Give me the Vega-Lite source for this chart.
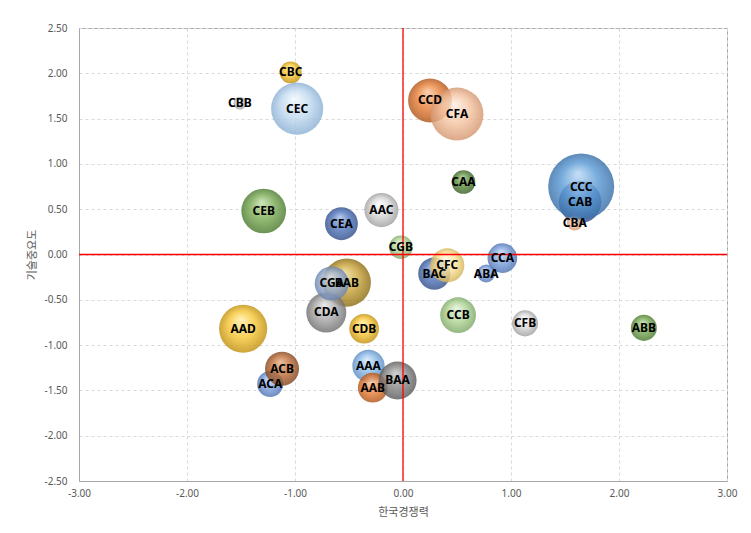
{
  "$schema": "https://vega.github.io/schema/vega-lite/v6.json",
  "width": 648,
  "height": 453,
  "autosize": {"type": "none"},
  "padding": {"left": 79, "top": 28, "right": 24, "bottom": 52},
  "background": "white",
  "config": {
    "locale": {"number": {"decimal": ".", "thousands": ",", "grouping": [3], "currency": ["$", ""], "minus": "-"}},
    "view": {"stroke": "#a6a6a6", "strokeWidth": 1},
    "axis": {
      "domainColor": "#a6a6a6",
      "ticks": false,
      "gridColor": "#d9d9d9",
      "gridDash": [3, 3],
      "labelFont": "Noto Sans",
      "labelFontSize": 10,
      "labelColor": "#595959",
      "titleFont": "Noto Sans CJK KR",
      "titleFontSize": 11,
      "titleFontWeight": "normal",
      "titleColor": "#595959"
    }
  },
  "data": {
    "values": [
      {"name": "AAA", "x": -0.32, "y": -1.23, "value": 26, "c": "skyblue"},
      {"name": "AAB", "x": -0.28, "y": -1.47, "value": 22, "c": "orange"},
      {"name": "AAC", "x": -0.20, "y": 0.49, "value": 29, "c": "silver"},
      {"name": "AAD", "x": -1.48, "y": -0.82, "value": 58, "c": "gold"},
      {"name": "ABA", "x": 0.77, "y": -0.21, "value": 8, "c": "midblue"},
      {"name": "ABB", "x": 2.23, "y": -0.81, "value": 17, "c": "green"},
      {"name": "ACA", "x": -1.23, "y": -1.43, "value": 17, "c": "midblue"},
      {"name": "ACB", "x": -1.12, "y": -1.26, "value": 29, "c": "brown"},
      {"name": "BAA", "x": -0.05, "y": -1.39, "value": 36, "c": "darkgray"},
      {"name": "BAB", "x": -0.52, "y": -0.31, "value": 58, "c": "darkgold"},
      {"name": "BAC", "x": 0.29, "y": -0.21, "value": 26, "c": "darkblue"},
      {"name": "CAA", "x": 0.56, "y": 0.80, "value": 14, "c": "darkgreen"},
      {"name": "CAB", "x": 1.64, "y": 0.58, "value": 45, "c": "darkblue"},
      {"name": "CBA", "x": 1.59, "y": 0.35, "value": 6, "c": "peach"},
      {"name": "CBB", "x": -1.51, "y": 1.67, "value": 4, "c": "silver"},
      {"name": "CBC", "x": -1.04, "y": 2.01, "value": 12, "c": "gold"},
      {"name": "CCA", "x": 0.92, "y": -0.04, "value": 22, "c": "midblue"},
      {"name": "CCB", "x": 0.51, "y": -0.67, "value": 32, "c": "lightgreen"},
      {"name": "CCC", "x": 1.65, "y": 0.75, "value": 109, "c": "blue"},
      {"name": "CCD", "x": 0.25, "y": 1.70, "value": 48, "c": "orange"},
      {"name": "CDA", "x": -0.71, "y": -0.64, "value": 40, "c": "gray"},
      {"name": "CDB", "x": -0.36, "y": -0.82, "value": 22, "c": "gold"},
      {"name": "CEA", "x": -0.57, "y": 0.34, "value": 27, "c": "darkblue"},
      {"name": "CEB", "x": -1.29, "y": 0.48, "value": 50, "c": "green"},
      {"name": "CEC", "x": -0.98, "y": 1.61, "value": 68, "c": "lightblue"},
      {"name": "CFA", "x": 0.50, "y": 1.55, "value": 70, "c": "peach"},
      {"name": "CFB", "x": 1.13, "y": -0.76, "value": 17, "c": "silver"},
      {"name": "CFC", "x": 0.41, "y": -0.12, "value": 29, "c": "lightyellow"},
      {"name": "CGA", "x": -0.66, "y": -0.32, "value": 29, "c": "steel"},
      {"name": "CGB", "x": -0.02, "y": 0.08, "value": 14, "c": "lightgreen"}
    ]
  },
  "layer": [
    {
      "mark": {"type": "point", "shape": "circle", "filled": true, "opacity": 0.82, "strokeWidth": 0},
      "encoding": {
        "x": {"field": "x", "type": "quantitative", "scale": {"domain": [-3, 3], "nice": false, "zero": false},
              "axis": {"title": "한국경쟁력", "values": [-3, -2, -1, 0, 1, 2, 3], "format": ".2f", "labelPadding": 7, "titlePadding": 8, "labelFlush": false}},
        "y": {"field": "y", "type": "quantitative", "scale": {"domain": [-2.5, 2.5], "nice": false, "zero": false},
              "axis": {"title": "기술중요도", "values": [-2.5, -2, -1.5, -1, -0.5, 0, 0.5, 1, 1.5, 2, 2.5], "format": ".2f", "labelPadding": 12, "titlePadding": 6, "labelFlush": false}},
        "size": {"field": "value", "type": "quantitative", "scale": {"type": "linear", "domain": [0, 100], "range": [0, 4000], "zero": true}, "legend": null},
        "fill": {
          "condition": [
            {"test": "datum.c === 'blue'", "value": {"gradient": "radial", "x1": 0.45, "y1": 0.3, "r1": 0, "x2": 0.5, "y2": 0.5, "r2": 0.5, "stops": [{"offset": 0, "color": "#bcd8f3"}, {"offset": 0.55, "color": "#5b9bd5"}, {"offset": 1, "color": "#3a70a8"}]}},
            {"test": "datum.c === 'midblue'", "value": {"gradient": "radial", "x1": 0.45, "y1": 0.3, "r1": 0, "x2": 0.5, "y2": 0.5, "r2": 0.5, "stops": [{"offset": 0, "color": "#cbdcf5"}, {"offset": 0.55, "color": "#7ba0dc"}, {"offset": 1, "color": "#4f73b0"}]}},
            {"test": "datum.c === 'skyblue'", "value": {"gradient": "radial", "x1": 0.45, "y1": 0.3, "r1": 0, "x2": 0.5, "y2": 0.5, "r2": 0.5, "stops": [{"offset": 0, "color": "#d6e9fa"}, {"offset": 0.55, "color": "#8dbbe8"}, {"offset": 1, "color": "#5a8cc0"}]}},
            {"test": "datum.c === 'darkblue'", "value": {"gradient": "radial", "x1": 0.45, "y1": 0.3, "r1": 0, "x2": 0.5, "y2": 0.5, "r2": 0.5, "stops": [{"offset": 0, "color": "#a9bfe6"}, {"offset": 0.55, "color": "#5277bd"}, {"offset": 1, "color": "#33508a"}]}},
            {"test": "datum.c === 'lightblue'", "value": {"gradient": "radial", "x1": 0.45, "y1": 0.3, "r1": 0, "x2": 0.5, "y2": 0.5, "r2": 0.5, "stops": [{"offset": 0, "color": "#f2f8fd"}, {"offset": 0.55, "color": "#c0d9ef"}, {"offset": 1, "color": "#8cb0d4"}]}},
            {"test": "datum.c === 'steel'", "value": {"gradient": "radial", "x1": 0.45, "y1": 0.3, "r1": 0, "x2": 0.5, "y2": 0.5, "r2": 0.5, "stops": [{"offset": 0, "color": "#dce5f3"}, {"offset": 0.55, "color": "#9cb2d6"}, {"offset": 1, "color": "#6a83ad"}]}},
            {"test": "datum.c === 'orange'", "value": {"gradient": "radial", "x1": 0.45, "y1": 0.3, "r1": 0, "x2": 0.5, "y2": 0.5, "r2": 0.5, "stops": [{"offset": 0, "color": "#f9c9a2"}, {"offset": 0.55, "color": "#e9803a"}, {"offset": 1, "color": "#b0561b"}]}},
            {"test": "datum.c === 'brown'", "value": {"gradient": "radial", "x1": 0.45, "y1": 0.3, "r1": 0, "x2": 0.5, "y2": 0.5, "r2": 0.5, "stops": [{"offset": 0, "color": "#e6b38c"}, {"offset": 0.55, "color": "#bf703a"}, {"offset": 1, "color": "#83461f"}]}},
            {"test": "datum.c === 'peach'", "value": {"gradient": "radial", "x1": 0.45, "y1": 0.3, "r1": 0, "x2": 0.5, "y2": 0.5, "r2": 0.5, "stops": [{"offset": 0, "color": "#fdeee3"}, {"offset": 0.55, "color": "#f4c4a2"}, {"offset": 1, "color": "#d49670"}]}},
            {"test": "datum.c === 'gray'", "value": {"gradient": "radial", "x1": 0.45, "y1": 0.3, "r1": 0, "x2": 0.5, "y2": 0.5, "r2": 0.5, "stops": [{"offset": 0, "color": "#e6e6e6"}, {"offset": 0.55, "color": "#a8a8a8"}, {"offset": 1, "color": "#6e6e6e"}]}},
            {"test": "datum.c === 'darkgray'", "value": {"gradient": "radial", "x1": 0.45, "y1": 0.3, "r1": 0, "x2": 0.5, "y2": 0.5, "r2": 0.5, "stops": [{"offset": 0, "color": "#c8c8c8"}, {"offset": 0.55, "color": "#8a8a8a"}, {"offset": 1, "color": "#5a5a5a"}]}},
            {"test": "datum.c === 'silver'", "value": {"gradient": "radial", "x1": 0.45, "y1": 0.3, "r1": 0, "x2": 0.5, "y2": 0.5, "r2": 0.5, "stops": [{"offset": 0, "color": "#ffffff"}, {"offset": 0.55, "color": "#d6d6d6"}, {"offset": 1, "color": "#9e9e9e"}]}},
            {"test": "datum.c === 'gold'", "value": {"gradient": "radial", "x1": 0.45, "y1": 0.3, "r1": 0, "x2": 0.5, "y2": 0.5, "r2": 0.5, "stops": [{"offset": 0, "color": "#fff0a8"}, {"offset": 0.55, "color": "#f7c637"}, {"offset": 1, "color": "#c09010"}]}},
            {"test": "datum.c === 'darkgold'", "value": {"gradient": "radial", "x1": 0.45, "y1": 0.3, "r1": 0, "x2": 0.5, "y2": 0.5, "r2": 0.5, "stops": [{"offset": 0, "color": "#eedb96"}, {"offset": 0.55, "color": "#c9a43a"}, {"offset": 1, "color": "#8c6d15"}]}},
            {"test": "datum.c === 'lightyellow'", "value": {"gradient": "radial", "x1": 0.45, "y1": 0.3, "r1": 0, "x2": 0.5, "y2": 0.5, "r2": 0.5, "stops": [{"offset": 0, "color": "#fffae6"}, {"offset": 0.55, "color": "#fde49a"}, {"offset": 1, "color": "#d4b35a"}]}},
            {"test": "datum.c === 'green'", "value": {"gradient": "radial", "x1": 0.45, "y1": 0.3, "r1": 0, "x2": 0.5, "y2": 0.5, "r2": 0.5, "stops": [{"offset": 0, "color": "#c3dfae"}, {"offset": 0.55, "color": "#7aab55"}, {"offset": 1, "color": "#4c7a30"}]}},
            {"test": "datum.c === 'darkgreen'", "value": {"gradient": "radial", "x1": 0.45, "y1": 0.3, "r1": 0, "x2": 0.5, "y2": 0.5, "r2": 0.5, "stops": [{"offset": 0, "color": "#a9c996"}, {"offset": 0.55, "color": "#5f8e42"}, {"offset": 1, "color": "#3a5e25"}]}},
            {"test": "datum.c === 'lightgreen'", "value": {"gradient": "radial", "x1": 0.45, "y1": 0.3, "r1": 0, "x2": 0.5, "y2": 0.5, "r2": 0.5, "stops": [{"offset": 0, "color": "#e6f2dd"}, {"offset": 0.55, "color": "#afd495"}, {"offset": 1, "color": "#7ea866"}]}}
          ],
          "value": "#999999"
        }
      }
    },
    {
      "data": {"values": [{}]},
      "mark": {"type": "rule", "color": "#ff0000", "strokeWidth": 1.3},
      "encoding": {"x": {"datum": 0, "type": "quantitative"}}
    },
    {
      "data": {"values": [{}]},
      "mark": {"type": "rule", "color": "#ff0000", "strokeWidth": 1.3},
      "encoding": {"y": {"datum": 0, "type": "quantitative"}}
    },
    {
      "mark": {"type": "text", "font": "Noto Sans", "fontWeight": "bold", "fontSize": 12, "color": "#000000", "align": "center", "baseline": "middle"},
      "encoding": {
        "x": {"field": "x", "type": "quantitative"},
        "y": {"field": "y", "type": "quantitative"},
        "text": {"field": "name"}
      }
    }
  ]
}
